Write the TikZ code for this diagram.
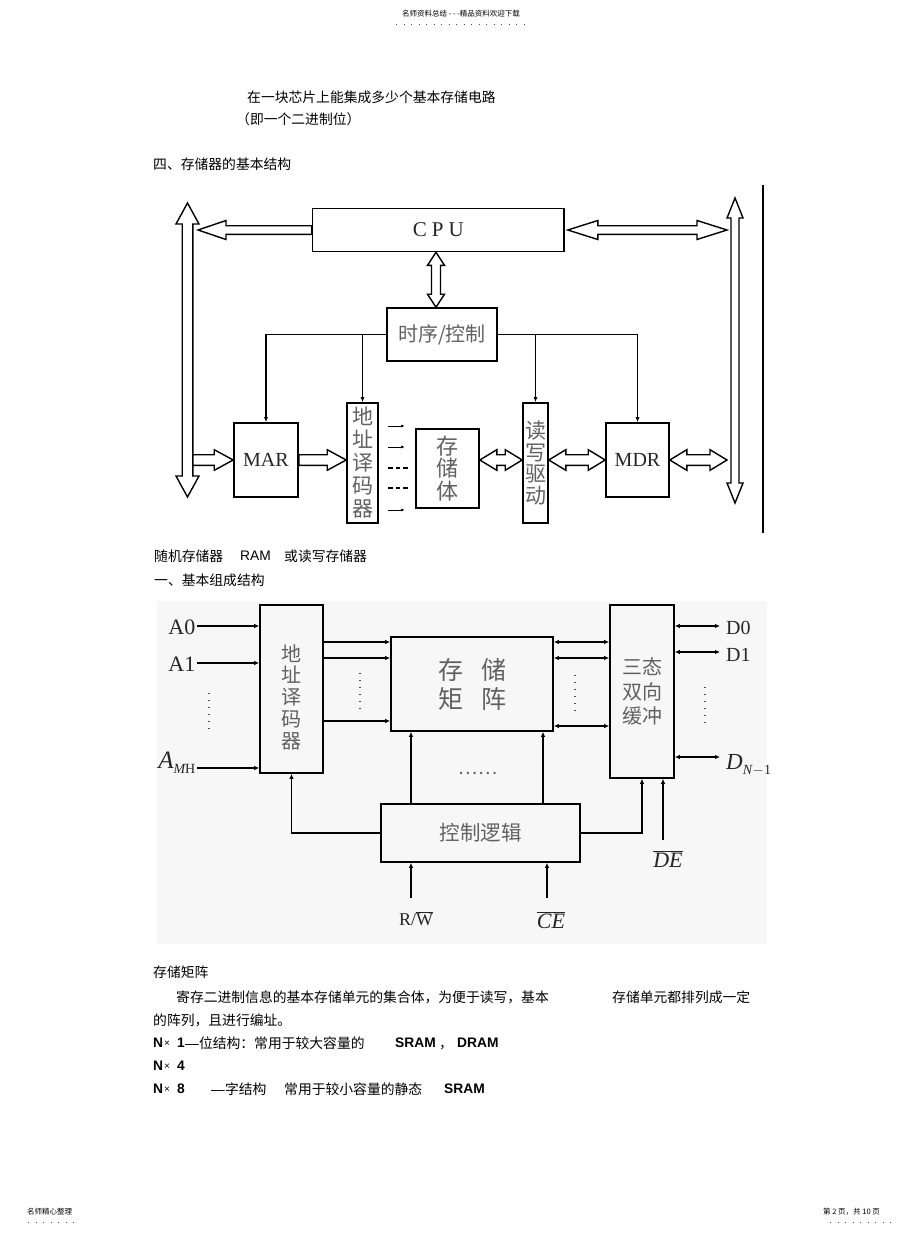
\documentclass[tikz,border=0pt]{standalone}
\usepackage{fontspec}
\setmainfont{Liberation Serif}
\newfontfamily\cjk{Noto Sans CJK SC}
\newfontfamily\lsans{Liberation Sans}
\usetikzlibrary{calc,arrows.meta}

% hollow bus arrows: tail, tip, shaft half width, head half width, head length
\newcommand{\bussingle}[5]{%
  \path (#1) coordinate (bt) (#2) coordinate (bh);
  \path ($(bh)!#5!(bt)$) coordinate (bc);
  \draw[bus] ($(bt)!#3!90:(bh)$) -- ($(bc)!#3!-90:(bt)$) -- ($(bc)!#4!-90:(bt)$) -- (bh)
    -- ($(bc)!#4!90:(bt)$) -- ($(bc)!#3!90:(bt)$) -- ($(bt)!#3!-90:(bh)$) -- cycle;}
\newcommand{\busdouble}[5]{%
  \path (#1) coordinate (ba) (#2) coordinate (bb);
  \path ($(ba)!#5!(bb)$) coordinate (bc) ($(bb)!#5!(ba)$) coordinate (bd);
  \draw[bus] (ba) -- ($(bc)!#4!90:(bb)$) -- ($(bc)!#3!90:(bb)$) -- ($(bd)!#3!-90:(ba)$)
    -- ($(bd)!#4!-90:(ba)$) -- (bb) -- ($(bd)!#4!90:(ba)$) -- ($(bd)!#3!90:(ba)$)
    -- ($(bc)!#3!-90:(bb)$) -- ($(bc)!#4!-90:(bb)$) -- cycle;}

\tikzset{
  box/.style={draw, line width=1.6pt, inner sep=0pt, align=center},
  lbl/.style={text=black!62, font=\cjk\fontsize{20}{23}\selectfont},
  lat/.style={text=black!85, font=\fontsize{20}{22}\selectfont},
  bus/.style={draw, line width=1.4pt, fill=white, line join=miter},
  wire/.style={line width=1.4pt, -{Latex[length=5pt,width=4pt]}},
  tick/.style={line width=0.9pt, -{Latex[length=4pt,width=3pt]}},
  dashrow/.style={line width=2.2pt, dash pattern=on 4.5pt off 3pt},
  sig/.style={line width=1.6pt, -{Latex[length=5pt,width=4.5pt]}},
  sigb/.style={line width=1.6pt, {Latex[length=5pt,width=4.5pt]}-{Latex[length=5pt,width=4.5pt]}},
  txt/.style={anchor=west, inner sep=0pt, font=\cjk\fontsize{13.8}{16}\selectfont},
  bold/.style={anchor=west, inner sep=0pt, font=\lsans\bfseries\fontsize{13.8}{16}\selectfont},
  times/.style={anchor=west, inner sep=0pt, font=\lsans\fontsize{10}{12}\selectfont},
  tiny/.style={inner sep=0pt, font=\cjk\fontsize{7.5}{9}\selectfont},
  dotrow/.style={line width=0.8pt, dash pattern=on 0.8pt off 6.7pt, black!70},
  vdot/.style={line width=1.3pt, dash pattern=on 1.3pt off 5.7pt, black!70},
  dlab/.style={lat, anchor=west, inner xsep=6pt, inner ysep=0pt},
}

\begin{document}
\begin{tikzpicture}[x=1pt,y=-1pt]
\useasboundingbox (0,0) rectangle (920,1234);
\fill[white] (0,0) rectangle (920,1234);

% page header
\node[tiny] (head) at (461,14) {名师资料总结 - - -精品资料欢迎下载};
\draw[dotrow] (396,24) -- (529,24);

\node[txt] (t1) at (247,97) {在一块芯片上能集成多少个基本存储电路};
\node[txt] (t2) at (236,119) {（即一个二进制位）};
\node[txt] (t3) at (153,164) {四、存储器的基本结构};

% basic structure
\draw[line width=1.2pt] (763,185) -- (763,533);
\node[box, lat, minimum width=251.5, minimum height=43, font=\fontsize{21}{24}\selectfont] (cpu) at (438.25,230) {C\hspace{5pt}P\hspace{5pt}U};
\node[box, lbl, minimum width=110, minimum height=53] (ctrl) at (442,334.5) {时序/控制};
\node[box, lat, minimum width=64, minimum height=74] (mar) at (266,460) {MAR};
\node[box, lbl, minimum width=31, minimum height=120, font=\cjk\fontsize{21}{23}\selectfont] (dec) at (362.5,463) {地\\址\\译\\码\\器};
\node[box, lbl, minimum width=63, minimum height=79, font=\cjk\fontsize{22}{22.5}\selectfont] (mem) at (447.5,468.5) {存\\储\\体};
\node[box, lbl, minimum width=25, minimum height=120, font=\cjk\fontsize{21}{21.5}\selectfont] (rw) at (535.5,463) {读\\写\\驱\\动};
\node[box, lat, minimum width=63, minimum height=74] (mdr) at (637.5,460) {MDR};

\draw[wire] (ctrl.west) -| (mar.north);
\draw[wire] (ctrl.west) -| (dec.north);
\draw[wire] (ctrl.east) -| (rw.north);
\draw[wire] (ctrl.east) -| (mdr.north);

\coordinate (lbusT) at (187.5,203);
\coordinate (lbusB) at (187.5,497);
\coordinate (rbusT) at (735,198);
\coordinate (rbusB) at (735,503);
\busdouble{lbusT}{lbusB}{5.3pt}{11.5pt}{21pt}
\busdouble{rbusT}{rbusB}{4pt}{8pt}{20pt}

\coordinate (lbusA) at (cpu.west -| 198,0);
\coordinate (cpuE) at ($(cpu.east)+(3,0)$);
\coordinate (rbusA) at (cpu.east -| 727,0);
\coordinate (cpuS) at (cpu.south -| 436,0);
\coordinate (ctrlN) at (ctrl.north -| 436,0);
\bussingle{cpu.west}{lbusA}{4.3pt}{9.5pt}{28pt}
\busdouble{cpuE}{rbusA}{4.3pt}{9.5pt}{30pt}
\busdouble{cpuS}{ctrlN}{4.5pt}{8.5pt}{13pt}

\coordinate (lbusE) at (mar.west -| 193,0);
\coordinate (rbusW) at (mdr.east -| 727,0);
\bussingle{lbusE}{mar.west}{5.3pt}{10.3pt}{19pt}
\bussingle{mar.east}{dec.west |- mar.east}{5.3pt}{10.3pt}{19pt}
\busdouble{mem.east |- mar.east}{rw.west |- mar.east}{5.3pt}{10.3pt}{17pt}
\busdouble{rw.east |- mar.east}{mdr.west}{5.3pt}{10.3pt}{17pt}
\busdouble{mdr.east}{rbusW}{5.3pt}{10.3pt}{17pt}

\foreach \y in {426,447,510} \draw[tick] (388,\y) -- (405,\y);
\foreach \y in {468,488} \draw[dashrow] (388,\y) -- (408,\y);

\node[txt] (t4) at (154,556) {随机存储器};
\node[txt, font=\lsans\fontsize{13.8}{16}\selectfont] (t5) at (240,556) {RAM};
\node[txt] (t6) at (284,556) {或读写存储器};
\node[txt] (t7) at (154,580) {一、基本组成结构};

% RAM structure
\fill[black!3] (157,601) rectangle (767,944);
\node[box, minimum width=63, minimum height=168] (adec) at (291.5,689) {};
\node[lbl, align=center, font=\cjk\fontsize{20}{21.7}\selectfont] (adect) at (291.5,697) {地\\址\\译\\码\\器};
\node[box, lbl, minimum width=162, minimum height=94, font=\cjk\fontsize{25}{29}\selectfont] (mat) at (472,684) {存\hspace{18pt}储\\矩\hspace{18pt}阵};
\node[box, lbl, minimum width=64, minimum height=173, font=\cjk\fontsize{20}{24.5}\selectfont] (buf) at (642,691.5) {三态\\双向\\缓冲};
\node[box, lbl, minimum width=199, minimum height=58, font=\cjk\fontsize{20.5}{23}\selectfont] (ctl) at (480.5,833) {控制逻辑};

\node[lat, anchor=east, inner sep=1.5pt, font=\fontsize{22}{24}\selectfont] (a0) at (197,627) {A0};
\node[lat, anchor=east, inner sep=1.5pt, font=\fontsize{22}{24}\selectfont] (a1) at (197,664) {A1};
\node[lat, anchor=base east, inner sep=1.5pt] (am) at (197,768) {{\fontsize{25}{26}\selectfont\itshape A}\raisebox{-5pt}{\fontsize{14}{15}\selectfont\itshape M\upshape H}};
\draw[sig] (a0.east |- 0,626) -- (adec.west |- 0,626);
\draw[sig] (a1.east |- 0,663) -- (adec.west |- 0,663);
\draw[sig] (am.base east) -- (am.base east -| adec.west);
\draw[vdot] (209,693) -- (209,730);

\foreach \y in {642,658,721} \draw[sig] (adec.east |- 0,\y) -- (mat.west |- 0,\y);
\draw[vdot] (360,673) -- (360,710);
\foreach \y in {642,658,726} \draw[sigb] (mat.east |- 0,\y) -- (buf.west |- 0,\y);
\draw[vdot] (575,675) -- (575,712);

\node[dlab] (d0) at (720,628) {D0};
\node[dlab] (d1) at (720,655) {D1};
\node[dlab, anchor=base west] (dn) at (720,769) {{\fontsize{23}{24}\selectfont\itshape D}\raisebox{-5pt}{\fontsize{14}{15}\selectfont\itshape N\upshape\kern0.5pt$-$\kern0.3pt1}};
\draw[sigb] (buf.east |- 0,626) -- (d0.west |- 0,626);
\draw[sigb] (buf.east |- 0,652) -- (d1.west |- 0,652);
\draw[sigb] (buf.east |- 0,757) -- (dn.west |- 0,757);
\draw[vdot] (705,687) -- (705,724);

\foreach \x in {411,543} \draw[sig] (ctl.north -| \x,0) -- (mat.south -| \x,0);
\node[lbl, font=\cjk\fontsize{18}{18}\selectfont] (gap) at (478,773) {……};
\draw[sig] (ctl.west) -| (adec.south);
\draw[sig] (ctl.east) -| (buf.south);

\coordinate (dein) at (663,840);
\coordinate (rwin) at (411,898);
\coordinate (cein) at (547,898);
\draw[sig] (dein) -- (dein |- buf.south);
\draw[sig] (rwin) -- (rwin |- ctl.south);
\draw[sig] (cein) -- (cein |- ctl.south);
\node[lat, font=\fontsize{22}{24}\selectfont] (de) at (668,859) {$\overline{\mbox{\itshape DE}}$};
\node[lat, font=\fontsize{18}{20}\selectfont] (rwl) at (416,919) {R/$\overline{\mbox{W}}$};
\node[lat, font=\fontsize{22}{24}\selectfont] (ce) at (551,920) {$\overline{\mbox{\itshape CE}}$};

% notes
\node[txt] (t8) at (153,972) {存储矩阵};
\node[txt] (t9) at (176,997) {寄存二进制信息的基本存储单元的集合体，为便于读写，基本};
\node[txt] (t10) at (612,997) {存储单元都排列成一定};
\node[txt] (t11) at (153,1020) {的阵列，且进行编址。};

\node[bold] (n1) at (153,1043) {N};
\node[times] (x1) at (164,1044) {×};
\node[bold] (k1) at (177,1043) {1};
\node[txt] (t12) at (185,1043) {{\lsans —}位结构：常用于较大容量的};
\node[bold] (s1) at (395,1043) {SRAM};
\node[txt] (t13) at (439,1043) {，\vphantom{中}};
\node[bold] (s2) at (457,1043) {DRAM};

\node[bold] (n2) at (153,1066) {N};
\node[times] (x2) at (164,1067) {×};
\node[bold] (k2) at (177,1066) {4};

\node[bold] (n3) at (153,1089) {N};
\node[times] (x3) at (164,1090) {×};
\node[bold] (k3) at (177,1089) {8};
\node[txt] (t14) at (211,1089) {{\lsans —}字结构};
\node[txt] (t15) at (284,1089) {常用于较小容量的静态};
\node[bold] (s3) at (444,1089) {SRAM};

% page footer
\node[tiny, anchor=west] (foot1) at (27,1212) {名师精心整理};
\draw[dotrow] (28,1222) -- (76,1222);
\node[tiny, anchor=west] (foot2) at (823,1212) {第 2 页，共 10 页};
\draw[dotrow] (830,1222) -- (894,1222);
\end{tikzpicture}
\end{document}
